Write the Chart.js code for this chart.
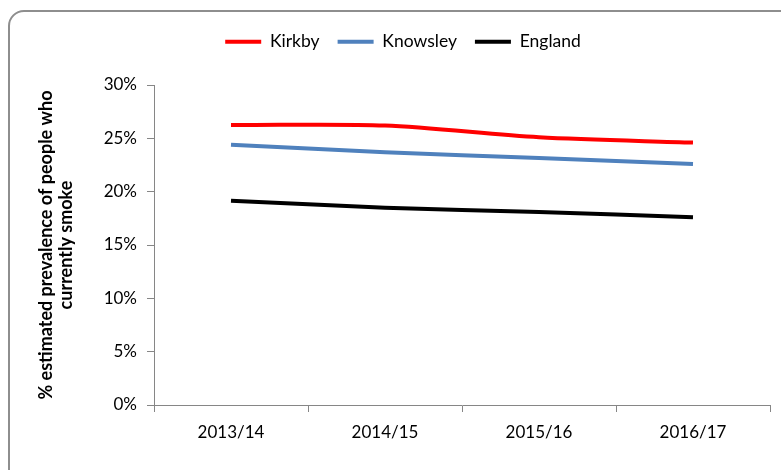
<!DOCTYPE html>
<html>
<head>
<meta charset="utf-8">
<script src="https://cdn.jsdelivr.net/npm/chart.js@4"></script>
<style>
  html, body { margin: 0; padding: 0; background: #ffffff; }
  #wrap { position: relative; width: 781px; height: 470px; overflow: hidden; }
  #frame { position: absolute; left: 8px; top: 10px; width: 800px; height: 500px;
           border: 2px solid #8e8e8e; border-radius: 16px; box-sizing: border-box; }
  #c { position: absolute; left: 0; top: 0; }
</style>
</head>
<body>
<div id="wrap">
  <div id="frame"></div>
  <canvas id="c" width="781" height="470"></canvas>
</div>
<script>
const categories = ['2013/14', '2014/15', '2015/16', '2016/17'];
const kirkby   = [26.25, 26.2, 25.1, 24.6];
const knowsley = [24.4, 23.7, 23.15, 22.6];
const england  = [19.15, 18.5, 18.1, 17.6];
const yTicks = [0, 5, 10, 15, 20, 25, 30];
const yTitle = ['% estimated prevalence of people who', 'currently smoke'];

const FONT = 'Lato, "Open Sans", "Liberation Sans", sans-serif';
const AXIS = '#868686';

function ds(label, data, color) {
  return { label, data, borderColor: color, backgroundColor: color,
           borderWidth: 4, pointRadius: 0, pointHoverRadius: 0, tension: 0.3, fill: false };
}

new Chart(document.getElementById('c'), {
  type: 'line',
  data: {
    labels: categories,
    datasets: [ds('Kirkby', kirkby, '#ff0000'), ds('Knowsley', knowsley, '#4f81bd'), ds('England', england, '#000000')]
  },
  options: {
    responsive: false,
    animation: false,
    devicePixelRatio: 1,
    layout: { padding: { left: 36, right: 11, top: 15, bottom: 0 } },
    plugins: {
      tooltip: { enabled: false },
      legend: {
        position: 'top',
        labels: {
          boxWidth: 36, boxHeight: 4, padding: 18, color: '#000',
          font: { family: FONT, size: 17.5 },
          generateLabels: chart => Chart.defaults.plugins.legend.labels.generateLabels(chart)
            .map(l => Object.assign(l, { lineWidth: 0 }))
        }
      },
      subtitle: {
        display: true, text: ' ', position: 'top', weight: 500,
        font: { size: 10, lineHeight: 1 }, padding: { top: 0, bottom: 14.5 }
      }
    },
    scales: {
      x: {
        offset: true,
        grid: { offset: true, drawOnChartArea: false, tickLength: 7, color: AXIS },
        border: { color: AXIS, width: 1 },
        ticks: { padding: 10, color: '#000', font: { family: FONT, size: 17 }, maxRotation: 0 },
        afterFit: s => { s.height = 65; }
      },
      y: {
        min: 0, max: 30,
        afterBuildTicks: s => { s.ticks = yTicks.map(v => ({ value: v })); },
        grid: { drawOnChartArea: false, tickLength: 7, color: AXIS },
        border: { color: AXIS, width: 1 },
        ticks: { padding: 10, color: '#000', font: { family: FONT, size: 17 }, callback: v => v + '%' },
        title: { display: true, text: yTitle, color: '#000', padding: { top: 0, bottom: 0 },
                 font: { family: FONT, size: 18, weight: 'bold', lineHeight: 1.1 } },
        afterFit: s => { s.width = 154 - 36; }
      }
    }
  }
});
</script>
</body>
</html>
